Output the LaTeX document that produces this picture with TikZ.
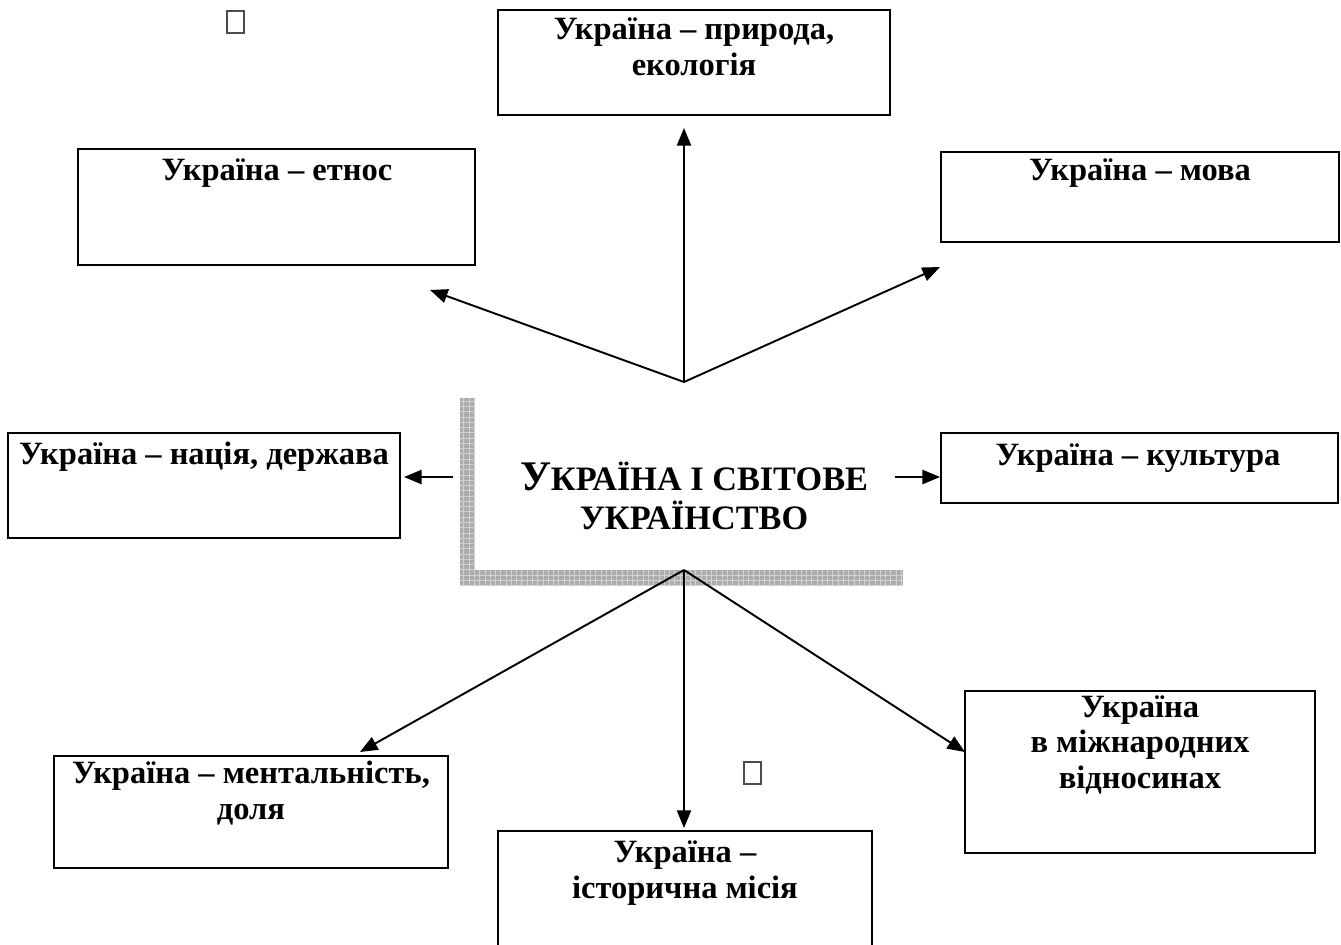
\documentclass[tikz,border=0pt]{standalone}
\usepackage{fontspec}
\setmainfont{Liberation Serif}
\usetikzlibrary{arrows.meta,fit,patterns}

\begin{document}
\begin{tikzpicture}[x=0.02cm, y=-0.02cm,
box/.style = {rectangle, draw=black, line width=1.1pt, inner sep=0pt},
lbl/.style = {align=center, anchor=base, inner sep=0pt, font=\fontsize{18.5}{20}\selectfont\bfseries},
arr/.style = {line width=1.1pt, -{Triangle[length=10pt, width=8pt]}},
shade/.style = {fill=gray!65},
glyph/.style = {draw=black!70, line width=0.6pt}]

\useasboundingbox (0,0) rectangle (1341,944);

\fill[shade] (460,398) rectangle (475,585);
\fill[shade] (475,570) rectangle (903,585);
\fill[pattern=grid, pattern color=gray!35] (460,398) rectangle (475,585);
\fill[pattern=grid, pattern color=gray!35] (475,570) rectangle (903,585);

\node[box, fit={(498,10) (890,115)}] (eco) {};
\node[box, fit={(78,149) (475,265)}] (ethnos) {};
\node[box, fit={(941,152) (1339,242)}] (lang) {};
\node[box, fit={(8,433) (400,538)}] (nation) {};
\node[box, fit={(941,433) (1338,503)}] (culture) {};
\node[box, fit={(54,756) (448,868)}] (mental) {};
\node[box, fit={(498,831) (872,960)}] (mission) {};
\node[box, fit={(965,691) (1315,853)}] (intl) {};

\node[lbl] (ecoT) at (694,75) {Україна – природа,\\екологія};
\node[lbl] (ethnosT) at (277,180) {Україна – етнос};
\node[lbl] (langT) at (1140,180) {Україна – мова};
\node[lbl] (nationT) at (204,464) {Україна – нація, держава};
\node[lbl] (cultureT) at (1138,465) {Україна – культура};
\node[lbl] (mentalT) at (251,819) {Україна – ментальність,\\доля};
\node[lbl] (missionT) at (685,898) {Україна –\\історична місія};
\node[lbl] (intlT) at (1140,788) {Україна\\в міжнародних\\відносинах};

\node[anchor=base, align=center, inner sep=0pt, font=\fontsize{19.5}{22}\selectfont\bfseries] (title) at (694,529)
  {{\fontsize{24}{22}\selectfont У}КРАЇНА І СВІТОВЕ\\УКРАЇНСТВО};

\draw[glyph] (227,11) rectangle (244,33);
\draw[glyph] (744,762) rectangle (761,784);

\coordinate (hubT) at (684,382);
\coordinate (hubB) at (684,570);
\coordinate (hubL) at (453,477);
\coordinate (hubR) at (895,477);
\coordinate (ecoTip) at (684,128);
\coordinate (ethnosTip) at (430,290);
\coordinate (langTip) at (940,267);
\coordinate (nationTip) at (404,477);
\coordinate (mentalTip) at (360,752);
\coordinate (missionTip) at (684,828);
\coordinate (intlTip) at (965,752);

\draw[arr] (hubT) -- (ecoTip);
\draw[arr] (hubT) -- (ethnosTip);
\draw[arr] (hubT) -- (langTip);
\draw[arr] (hubL) -- (nationTip);
\draw[arr] (hubR) -- (culture.west |- hubR);
\draw[arr] (hubB) -- (mentalTip);
\draw[arr] (hubB) -- (missionTip);
\draw[arr] (hubB) -- (intlTip);
\end{tikzpicture}
\end{document}
